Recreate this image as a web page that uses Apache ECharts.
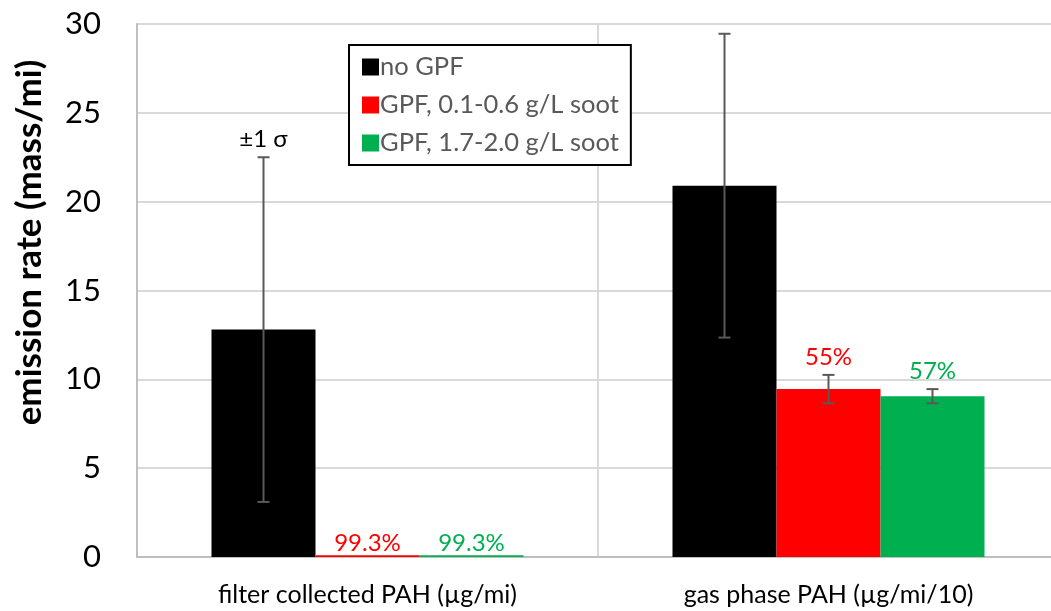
<!DOCTYPE html>
<html>
<head>
<meta charset="utf-8">
<script src="https://cdn.jsdelivr.net/npm/echarts@6/dist/echarts.min.js"></script>
<style>
  html, body { margin: 0; padding: 0; background: #fff; }
  #chart { width: 1051px; height: 611px; }
</style>
</head>
<body>
<div id="chart"></div>
<script>
// data
var categories = ['filter collected PAH (µg/mi)', 'gas phase PAH (µg/mi/10)'];
var seriesNames = ['no GPF', 'GPF, 0.1-0.6 g/L soot', 'GPF, 1.7-2.0 g/L soot'];
var colors = ['#000000', '#ff0000', '#00b050'];
var noGpf = [12.8, 20.9];
var gpfLow = [0.1, 9.45];
var gpfHigh = [0.1, 9.05];
var errNoGpf = [9.7, 8.55];
var errLow = [0.0, 0.8];
var errHigh = [0.0, 0.4];
var pctLow = ['99.3%', '55%'];
var pctHigh = ['99.3%', '57%'];
var yTicks = [0, 5, 10, 15, 20, 25, 30];

var values = [noGpf, gpfLow, gpfHigh];
var errs = [errNoGpf, errLow, errHigh];
var notes = [['±1 σ', ''], pctLow, pctHigh];

var FONT = 'Lato';
var BARW = 104;

var myChart = echarts.init(document.getElementById('chart'));

// error bar + label points: [category, low, high, seriesIndex]
var errData = [];
for (var s = 0; s < 3; s++) {
    for (var c = 0; c < categories.length; c++) {
        errData.push([c, values[s][c] - errs[s][c], values[s][c] + errs[s][c], s]);
    }
}

function renderErr(params, api) {
    var c = api.value(0), s = api.value(3);
    var lo = api.coord([c, api.value(1)]);
    var hi = api.coord([c, api.value(2)]);
    var x = lo[0] + (s - 1) * BARW;
    var children = [];
    if (errs[s][c] > 0) {
        var st = { stroke: '#595959', lineWidth: 2 };
        children.push({ type: 'line', shape: { x1: x, y1: lo[1], x2: x, y2: hi[1] }, style: st });
        children.push({ type: 'line', shape: { x1: x - 6, y1: lo[1], x2: x + 6, y2: lo[1] }, style: st });
        children.push({ type: 'line', shape: { x1: x - 6, y1: hi[1], x2: x + 6, y2: hi[1] }, style: st });
    }
    var txt = notes[s][c];
    if (txt) {
        children.push({
            type: 'text',
            style: {
                x: x, y: hi[1] - (errs[s][c] > 0 ? 6 : 0),
                text: txt,
                fill: s === 0 ? '#000' : colors[s],
                font: '24px ' + FONT,
                textAlign: 'center', textVerticalAlign: 'bottom'
            }
        });
    }
    return { type: 'group', children: children };
}

var series = seriesNames.map(function (name, i) {
    return {
        name: name,
        type: 'bar',
        data: values[i],
        barWidth: BARW,
        barGap: '0%',
        itemStyle: { color: colors[i] },
        silent: true
    };
});
series.push({
    type: 'custom',
    renderItem: renderErr,
    data: errData,
    z: 10,
    silent: true
});

var option = {
    animation: false,
    textStyle: { fontFamily: FONT },
    grid: { left: 137, width: 922, top: 24, bottom: 54, outerBoundsMode: 'none' },
    legend: {
        data: seriesNames,
        orient: 'vertical',
        left: 349,
        top: 45,
        padding: [9, 12, 9, 13],
        itemGap: 12,
        itemWidth: 17,
        itemHeight: 17,
        borderColor: '#000',
        borderWidth: 2,
        backgroundColor: '#fff',
        icon: 'rect',
        textStyle: { fontFamily: FONT, fontSize: 25.5, color: '#595959', padding: [0, 0, 0, -4] }
    },
    xAxis: {
        type: 'category',
        data: categories,
        axisLine: { lineStyle: { color: '#bfbfbf', width: 2 } },
        axisTick: { show: false },
        splitLine: { show: true, lineStyle: { color: '#d9d9d9', width: 2 } },
        axisLabel: { fontFamily: FONT, fontSize: 25, color: '#000', margin: 25 }
    },
    yAxis: {
        type: 'value',
        min: yTicks[0],
        max: yTicks[yTicks.length - 1],
        interval: 5,
        name: 'emission rate (mass/mi)',
        nameLocation: 'middle',
        nameGap: 90,
        nameTextStyle: { fontFamily: FONT, fontSize: 35, fontWeight: 'bold', color: '#000', padding: [0, 0, 0, 96] },
        axisLine: { show: true, lineStyle: { color: '#bfbfbf', width: 2 } },
        axisTick: { show: false },
        splitLine: { lineStyle: { color: '#d9d9d9', width: 2 } },
        axisLabel: { fontFamily: FONT, fontSize: 31, color: '#000', margin: 36 }
    },
    series: series
};

myChart.setOption(option);
</script>
</body>
</html>
